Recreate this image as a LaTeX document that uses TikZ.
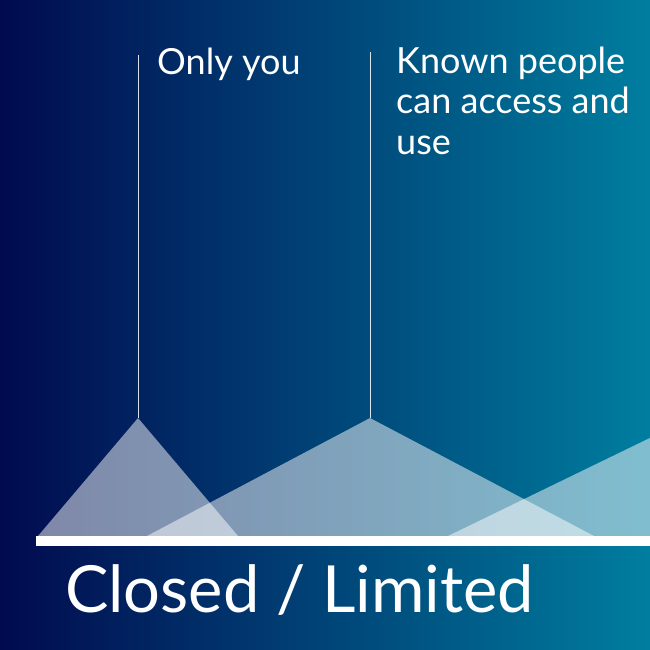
\documentclass[tikz,border=0pt]{standalone}
\usepackage{fontspec}
\setmainfont{Lato}
\definecolor{deepnavy}{HTML}{010A4F}
\definecolor{midblue}{HTML}{003670}
\definecolor{seateal}{HTML}{007E9F}
\begin{document}
\begin{tikzpicture}[x=1pt, y=-1pt]
        %style
        \tikzset{beam/.style = {fill=white, fill opacity=0.5}}
        \tikzset{stem/.style = {draw=white, line width=0.8pt, draw opacity=0.85}}
        \tikzset{caption/.style = {text=white, anchor=base west, inner sep=0pt, align=left, font=\fontsize{36}{40.5}\selectfont}}
        \tikzset{headline/.style = {text=white, anchor=base west, inner sep=0pt, font=\fontsize{65}{70}\selectfont}}
        % background
        \shade[left color=deepnavy, middle color=midblue, right color=seateal] (0,0) rectangle (650,650);
        \useasboundingbox (0,0) rectangle (650,650);
        \coordinate (tipA)  at (138,418);
        \coordinate (tipB)  at (370,418);
        \coordinate (tipC)  at (691,418);
        \coordinate (topA)  at (138,55);
        \coordinate (topB)  at (370,52);
        \coordinate (barL)  at (36,541);
        \coordinate (barR)  at (650,541);
        % beams
        \begin{scope}
            \clip (0,0) rectangle (650,650);
            \fill[beam] (tipA) -- (38,536) -- (238,536) -- cycle;
            \fill[beam] (tipB) -- (147,536) -- (594,536) -- cycle;
            \fill[beam] (tipC) -- (448,536) -- (934,536) -- cycle;
        \end{scope}
        \draw[stem] (tipA) -- (topA);
        \draw[stem] (tipB) -- (topB);
        \draw[white, line width=10pt] (barL) -- (barR);
        % labels
        \node[caption]  (only)   at (157,75) {Only you};
        \node[caption]  (known)  at (396,154) {Known people\\can access and\\use};
        \node[headline] (closed) at (65,612) {Closed / Limited};
\end{tikzpicture}
\end{document}
